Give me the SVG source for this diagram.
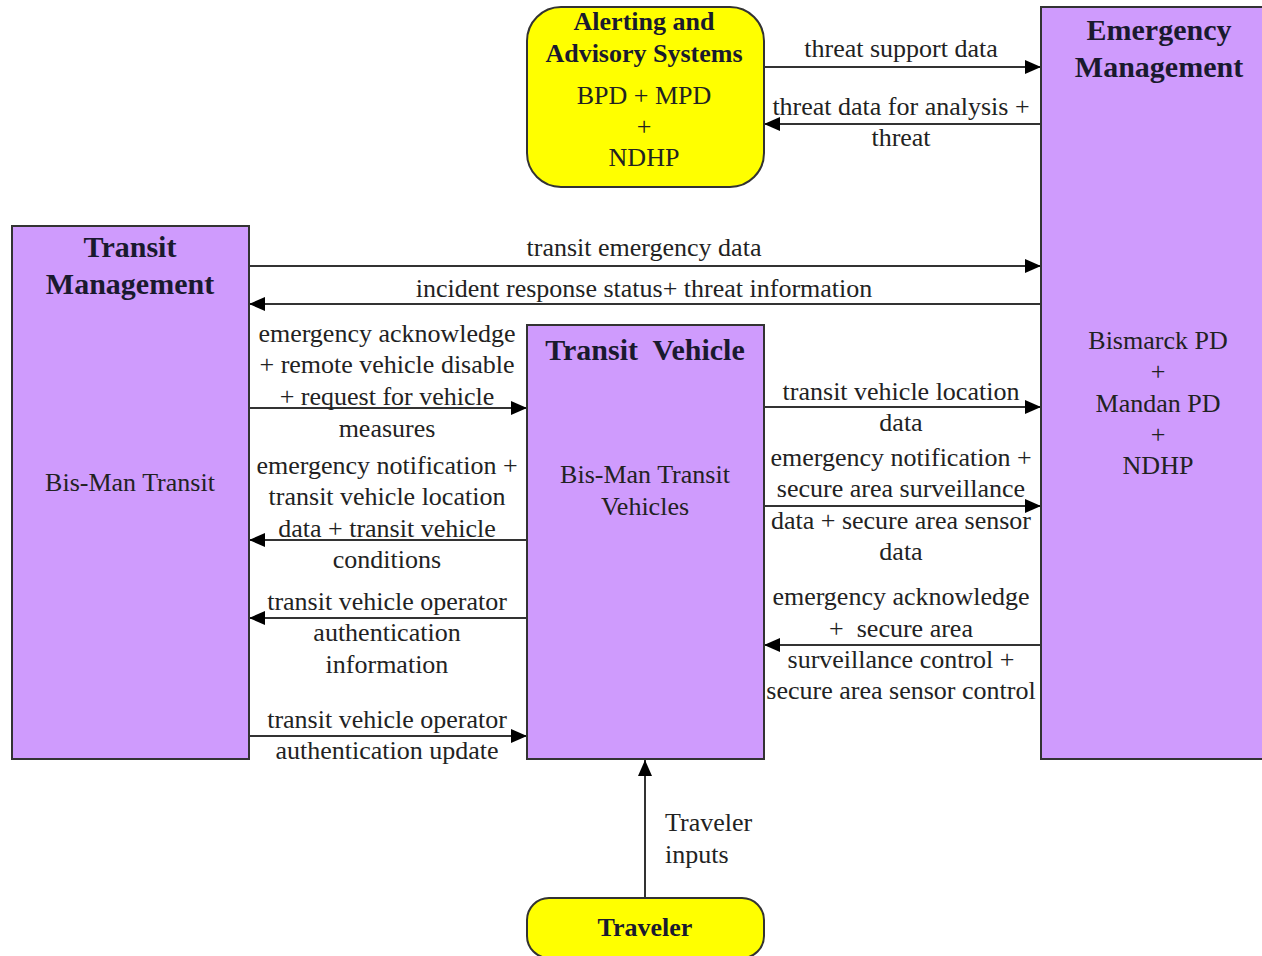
<svg xmlns="http://www.w3.org/2000/svg" width="1262" height="956" viewBox="0 0 1262 956">
<style>
.box{fill:#CF9BFD;stroke:#333;stroke-width:2}
.yel{fill:#FFFF00;stroke:#333;stroke-width:2}
.t{font-family:"Liberation Serif",serif;font-size:26px;fill:#222;text-anchor:middle;dominant-baseline:central}
.b{font-family:"Liberation Serif",serif;font-size:30px;font-weight:bold;fill:#1a1a2e;text-anchor:middle;dominant-baseline:central}
.ba{font-size:26px}
.l{font-family:"Liberation Serif",serif;font-size:26px;fill:#222;text-anchor:middle;dominant-baseline:central}
.c{stroke:#333;stroke-width:2;fill:none;marker-end:url(#ah)}
</style>
<defs>
<marker id="ah" markerWidth="16" markerHeight="14" refX="16" refY="7" orient="auto" markerUnits="userSpaceOnUse">
<path d="M0,0 L16,7 L0,14 Z" fill="#000"/>
</marker>
</defs>
<rect width="1262" height="956" fill="#fff"/>

<g id="connectors">
<line class="c" x1="764" y1="67" x2="1041" y2="67"/>
<line class="c" x1="1041" y1="124" x2="764" y2="124"/>
<line class="c" x1="249" y1="266" x2="1041" y2="266"/>
<line class="c" x1="1041" y1="304" x2="249" y2="304"/>
<line class="c" x1="249" y1="408" x2="527" y2="408"/>
<line class="c" x1="527" y1="540" x2="249" y2="540"/>
<line class="c" x1="527" y1="618" x2="249" y2="618"/>
<line class="c" x1="249" y1="736" x2="527" y2="736"/>
<line class="c" x1="764" y1="407" x2="1041" y2="407"/>
<line class="c" x1="764" y1="506" x2="1041" y2="506"/>
<line class="c" x1="1041" y1="645" x2="764" y2="645"/>
<line class="c" x1="645" y1="898" x2="645" y2="760"/>
<text class="l" x="901" y="48">threat support data</text>
<text class="l" x="901" y="106">threat data for analysis +</text>
<text class="l" x="901" y="137">threat</text>
<text class="l" x="644" y="247">transit emergency data</text>
<text class="l" x="644" y="288">incident response status+ threat information</text>
<text class="l" x="387" y="333">emergency acknowledge</text>
<text class="l" x="387" y="364">+ remote vehicle disable</text>
<text class="l" x="387" y="396">+ request for vehicle</text>
<text class="l" x="387" y="428">measures</text>
<text class="l" x="387" y="465">emergency notification +</text>
<text class="l" x="387" y="496">transit vehicle location</text>
<text class="l" x="387" y="528">data + transit vehicle</text>
<text class="l" x="387" y="559">conditions</text>
<text class="l" x="387" y="601">transit vehicle operator</text>
<text class="l" x="387" y="632">authentication</text>
<text class="l" x="387" y="664">information</text>
<text class="l" x="387" y="719">transit vehicle operator</text>
<text class="l" x="387" y="750">authentication update</text>
<text class="l" x="901" y="391">transit vehicle location</text>
<text class="l" x="901" y="422">data</text>
<text class="l" x="901" y="457">emergency notification +</text>
<text class="l" x="901" y="488">secure area surveillance</text>
<text class="l" x="901" y="520">data + secure area sensor</text>
<text class="l" x="901" y="551">data</text>
<text class="l" x="901" y="596">emergency acknowledge</text>
<text class="l" x="901" y="628" style="white-space:pre">+  secure area</text>
<text class="l" x="901" y="659">surveillance control +</text>
<text class="l" x="901" y="690">secure area sensor control</text>
<text class="l" x="665" y="822" style="text-anchor:start">Traveler</text>
<text class="l" x="665" y="854" style="text-anchor:start">inputs</text>
</g>

<g id="alerting">
<rect class="yel" x="527" y="7" width="237" height="180" rx="34" ry="34"/>
<text class="b ba" x="644" y="21">Alerting and</text>
<text class="b ba" x="644" y="53">Advisory Systems</text>
<text class="t" x="644" y="95">BPD + MPD</text>
<text class="t" x="644" y="126">+</text>
<text class="t" x="644" y="157">NDHP</text>
</g>

<g id="emergency-management">
<rect class="box" x="1041" y="7" width="230" height="752"/>
<text class="b" x="1159" y="29">Emergency</text>
<text class="b" x="1159" y="66">Management</text>
<text class="t" x="1158" y="340">Bismarck PD</text>
<text class="t" x="1158" y="371">+</text>
<text class="t" x="1158" y="403">Mandan PD</text>
<text class="t" x="1158" y="434">+</text>
<text class="t" x="1158" y="465">NDHP</text>
</g>

<g id="transit-management">
<rect class="box" x="12" y="226" width="237" height="533"/>
<text class="b" x="130" y="246">Transit</text>
<text class="b" x="130" y="283">Management</text>
<text class="t" x="130" y="482">Bis-Man Transit</text>
</g>

<g id="transit-vehicle">
<rect class="box" x="527" y="325" width="237" height="434"/>
<text class="b" x="645" y="349" style="white-space:pre">Transit  Vehicle</text>
<text class="t" x="645" y="474">Bis-Man Transit</text>
<text class="t" x="645" y="506">Vehicles</text>
</g>

<g id="traveler">
<rect class="yel" x="527" y="898" width="237" height="60" rx="22" ry="22"/>
<text class="b" x="645" y="927" style="font-size:26px">Traveler</text>
</g>
</svg>
